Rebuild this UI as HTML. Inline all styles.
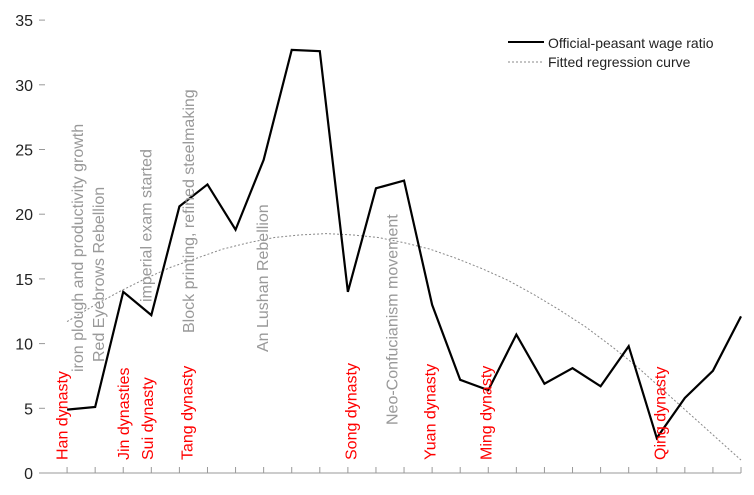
<!DOCTYPE html>
<html><head><meta charset="utf-8"><style>
body{margin:0;background:#fff}
svg{display:block;font-family:"Liberation Sans",Arial,sans-serif}
</style></head><body>
<svg id="chart" width="754" height="495" viewBox="0 0 754 495">
<g id="axes"></g>
<g id="fit"></g>
<g id="series"></g>
<g id="labels"></g>
<g>
<line x1="508" y1="42" x2="544" y2="42" stroke="#000" stroke-width="2"/>
<text x="548" y="48" font-size="14" fill="#222">Official-peasant wage ratio</text>
<line x1="508" y1="62" x2="544" y2="62" stroke="#888" stroke-width="1" stroke-dasharray="2,2"/>
<text x="548" y="67" font-size="14" fill="#222">Fitted regression curve</text>
</g>
</svg>
<script>
const ratioValues=[4.9,5.1,14.0,12.2,20.6,22.3,18.8,24.2,32.7,32.6,14.0,22.0,22.6,13.0,7.2,6.4,10.7,6.9,8.1,6.7,9.8,2.7,5.8,7.9,12.1];
const fitValues=[11.7,12.9,14.0,15.0,15.9,16.6,17.3,17.8,18.2,18.4,18.5,18.4,18.2,17.8,17.3,16.6,15.8,14.9,13.8,12.6,11.3,9.8,8.2,6.4,4.6,2.8,1.0];
const yTicks=[0,5,10,15,20,25,30,35];
const dynasties=[["Han dynasty",0.8],["Jin dynasties",3.0],["Sui dynasty",3.85],["Tang dynasty",5.25],["Song dynasty",11.1],["Yuan dynasty",13.9],["Ming dynasty",15.9],["Qing dynasty",22.1]];
const events=[["iron plough and productivity growth",1.35,372],["Red Eyebrows Rebellion",2.1,362],["imperial exam started",3.8,302],["Block printing, refined steelmaking",5.3,333],["An Lushan Rebellion",7.95,352],["Neo-Confucianism movement",12.55,425]];
const X0=39,DX=28.08,Y0=473,DY=12.94;
const x=i=>X0+i*DX, y=v=>Y0-v*DY;
const NS="http://www.w3.org/2000/svg";
function mk(tag,attrs,parent){const e=document.createElementNS(NS,tag);for(const k in attrs)e.setAttribute(k,attrs[k]);parent.appendChild(e);return e;}
const axes=document.getElementById('axes');
let e=mk('line',{x1:X0,y1:Y0,x2:x(25),y2:Y0,stroke:'#999'},axes);


for(let i=1;i<=25;i++){e=mk('line',{x1:x(i),y1:Y0,x2:x(i),y2:Y0-6,stroke:'#999'},axes);

}
yTicks.forEach(t=>{e=mk('line',{x1:X0,y1:y(t),x2:X0+6,y2:y(t),stroke:'#999'},axes);


e=mk('text',{x:X0-6,y:y(t)+6,'text-anchor':'end','font-size':16,fill:'#222'},axes);
e.textContent=t;

});
e=mk('polyline',{points:fitValues.map((v,i)=>x(i*24/26+1)+','+y(v)).join(' '),fill:'none',stroke:'#888','stroke-width':1,'stroke-dasharray':'2,2'},document.getElementById('fit'));


e=mk('polyline',{points:ratioValues.map((v,i)=>x(i+1)+','+y(v)).join(' '),fill:'none',stroke:'#000','stroke-width':2.2,'stroke-linejoin':'miter'},document.getElementById('series'));


const lab=document.getElementById('labels');
dynasties.forEach(d=>{const px=x(d[1]);e=mk('text',{x:0,y:0,transform:`translate(${px+6},460) rotate(-90)`,'font-size':16,fill:'#f00'},lab);
e.textContent=d[0];

});
events.forEach(d=>{const px=x(d[1]);e=mk('text',{x:0,y:0,transform:`translate(${px+6},${d[2]}) rotate(-90)`,'font-size':16,fill:'#999'},lab);
e.textContent=d[0];

});
</script>
</body></html>
